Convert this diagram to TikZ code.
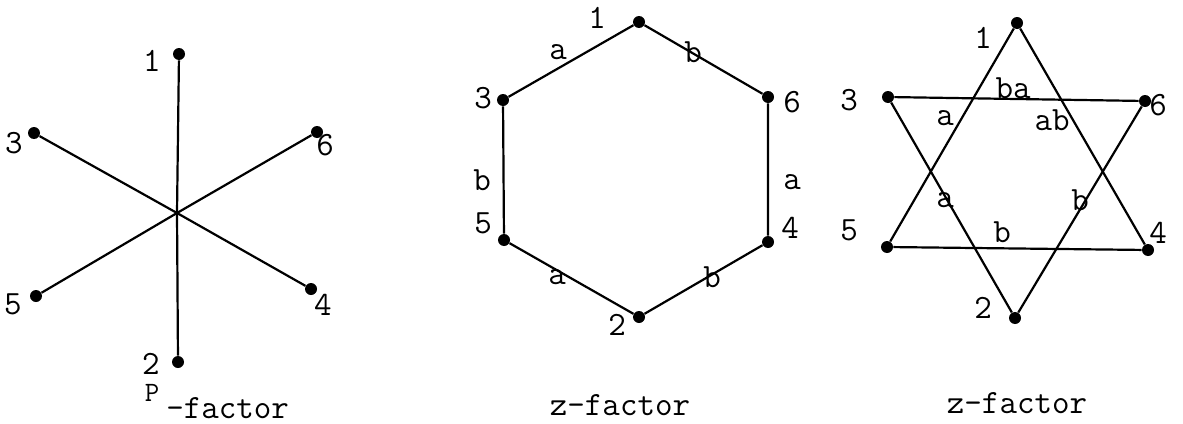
\documentclass[tikz,border=0pt]{standalone}
\begin{document}
\begin{tikzpicture}[x=0.5pt,y=-0.5pt,
  vtx/.style={circle,fill=black,inner sep=0pt,minimum size=6pt},
  lbl/.style={font=\ttfamily\fontsize{17}{17}\selectfont,inner sep=0pt},
  edge/.style={line width=1.1pt}]
\path[use as bounding box,fill=white] (0,0) rectangle (1183,423);
% ---- left: P-factor
\node[vtx] (L1) at (179,54) {};
\node[vtx] (L2) at (178,362) {};
\node[vtx] (L3) at (34,133) {};
\node[vtx] (L6) at (317,132) {};
\node[vtx] (L5) at (36,296) {};
\node[vtx] (L4) at (311,289) {};
\coordinate (LC) at (177,213);
\draw[edge] (L1) -- (LC) -- (L2);
\draw[edge] (L3) -- (LC) -- (L4);
\draw[edge] (L5) -- (LC) -- (L6);
\node[lbl] (l1) at (152,61) {1};
\node[lbl] (l3) at (14,143) {3};
\node[lbl] (l6) at (325,145) {6};
\node[lbl] (l5) at (13,304) {5};
\node[lbl] (l4) at (323,305) {4};
\node[lbl] (l2) at (151,364) {2};
\node[lbl,font=\ttfamily\fontsize{14}{14}\selectfont] (lP) at (152,393) {P};
\node[lbl,anchor=west] (lf) at (166,408) {-factor};
% ---- middle: hexagon
\node[vtx] (M1) at (639,22) {};
\node[vtx] (M3) at (503,100) {};
\node[vtx] (M6) at (768,97) {};
\node[vtx] (M5) at (504,240) {};
\node[vtx] (M4) at (768,242) {};
\node[vtx] (M2) at (639,317) {};
\draw[edge] (M1) -- (M3) -- (M5) -- (M2) -- (M4) -- (M6) -- (M1);
\node[lbl] (m1) at (597,18) {1};
\node[lbl] (m3) at (483,98) {3};
\node[lbl] (m6) at (792,102) {6};
\node[lbl] (m5) at (483,223) {5};
\node[lbl] (m4) at (790,228) {4};
\node[lbl] (m2) at (617,325) {2};
\node[lbl] (ma1) at (558,52) {a};
\node[lbl] (mb1) at (693,52) {b};
\node[lbl] (mb2) at (482,180) {b};
\node[lbl] (ma2) at (792,182) {a};
\node[lbl] (ma3) at (557,277) {a};
\node[lbl] (mb3) at (712,277) {b};
\node[lbl] (mf) at (620,405) {z-factor};
% ---- right: star
\node[vtx] (R1) at (1017,23) {};
\node[vtx] (R3) at (888,97) {};
\node[vtx] (R6) at (1145,101) {};
\node[vtx] (R5) at (887,247) {};
\node[vtx] (R4) at (1148,250) {};
\node[vtx] (R2) at (1015,318) {};
\draw[edge] (R1) -- (R5);
\draw[edge] (R1) -- (R4);
\draw[edge] (R3) -- (R6);
\draw[edge] (R5) -- (R4);
\draw[edge] (R3) -- (R2);
\draw[edge] (R6) -- (R2);
\node[lbl] (r1) at (983,38) {1};
\node[lbl] (r3) at (849,100) {3};
\node[lbl] (r6) at (1158,105) {6};
\node[lbl] (r5) at (849,230) {5};
\node[lbl] (r4) at (1158,233) {4};
\node[lbl] (r2) at (983,308) {2};
\node[lbl] (rba) at (1013,88) {ba};
\node[lbl] (ra1) at (945,118) {a};
\node[lbl] (rab) at (1052,120) {ab};
\node[lbl] (ra2) at (945,200) {a};
\node[lbl] (rb1) at (1080,200) {b};
\node[lbl] (rb2) at (1002,232) {b};
\node[lbl] (rf) at (1017,403) {z-factor};
\end{tikzpicture}
\end{document}
